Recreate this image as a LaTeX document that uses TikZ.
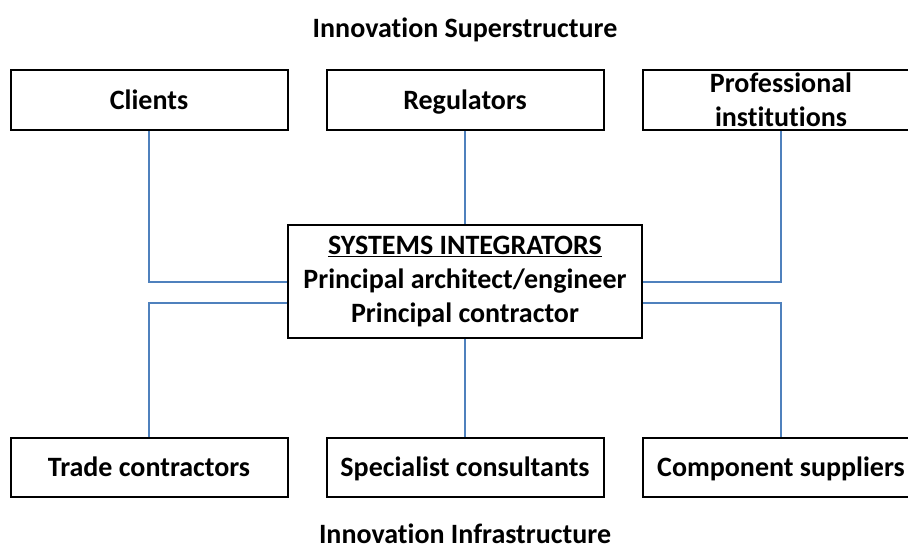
\documentclass[tikz,border=0pt]{standalone}
\usepackage{fontspec}
\setmainfont{Carlito}[Ligatures=NoCommon]
\usepackage{tikz}
\usetikzlibrary{positioning,calc}
\definecolor{linkblue}{HTML}{4F81BD}
\tikzset{
  box/.style={draw=black, line width=2pt, minimum width=277pt, minimum height=60pt,
    inner sep=0pt, align=center, font=\bfseries\fontsize{28}{34}\selectfont},
  onebox/.style={box, text height=22pt, text depth=4pt},
  link/.style={draw=linkblue, line width=2pt},
  caption/.style={font=\bfseries\fontsize{28}{32}\selectfont, text height=22pt, text depth=4pt}
}

\begin{document}
\begin{tikzpicture}[x=1pt,y=-1pt]
  \useasboundingbox (0,0) rectangle (908,552);
      \node[caption] (super) at (465,28) {Innovation Superstructure};
      \node[onebox] (clients) at (149,100) {Clients};
      \node[onebox] (regs) at (465,100) {Regulators};
      \node[box] (prof) at (781,100) {Professional\\institutions};
      \node[box, minimum width=354pt, minimum height=113pt] (sys) at (465,281.5)
        {\underline{SYSTEMS INTEGRATORS}\\Principal architect/engineer\\Principal contractor};
      \node[onebox, minimum height=59pt] (trade) at (149,467.5) {Trade contractors};
      \node[onebox, minimum height=59pt] (spec) at (465,467.5) {Specialist consultants};
      \node[onebox, minimum height=59pt] (comp) at (781,467.5) {Component suppliers};
      \node[caption] (infra) at (465,534) {Innovation Infrastructure};
      \draw[link] (clients.south) |- (sys.west);
      \draw[link] (regs) -- (sys);
      \draw[link] (prof.south) |- (sys.east);
      \draw[link] ([yshift=-21pt]sys.west) -| (trade.north);
      \draw[link] (sys.south) -- (spec.north);
      \draw[link] ([yshift=-21pt]sys.east) -| (comp.north);
\end{tikzpicture}
\end{document}
